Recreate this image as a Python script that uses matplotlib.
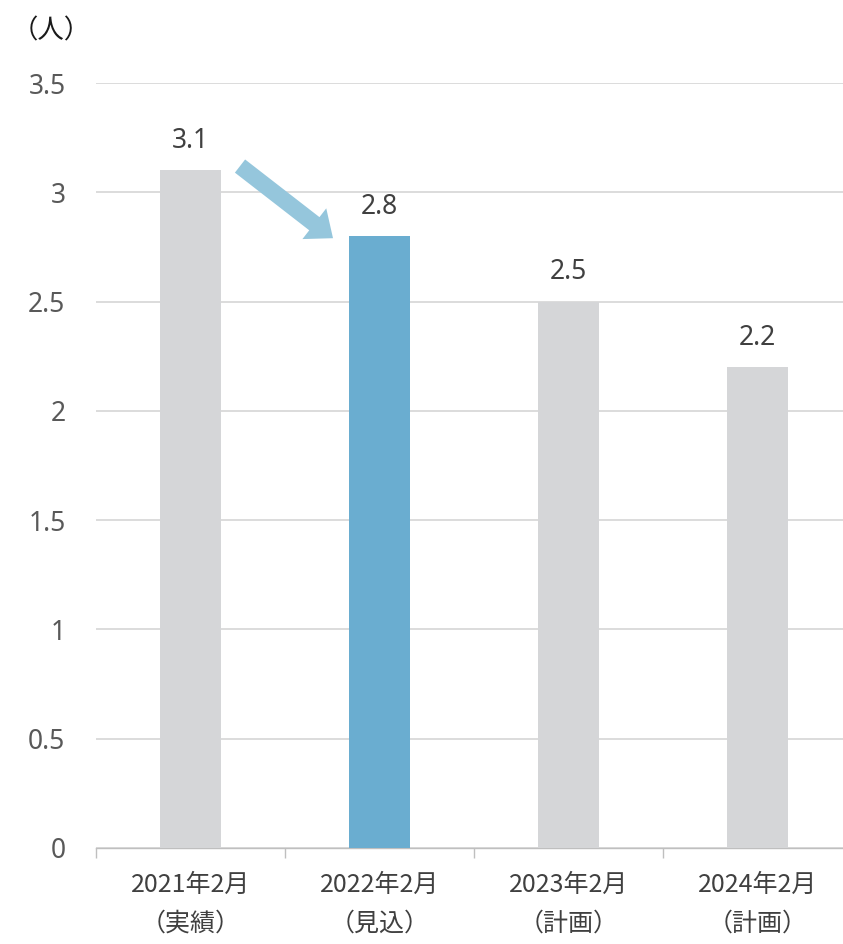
import matplotlib
matplotlib.use("Agg")
import matplotlib.pyplot as plt

plt.rcParams['font.family'] = ['Noto Sans', 'Noto Sans CJK JP', 'DejaVu Sans']

categories = ["2021年2月\n（実績）", "2022年2月\n（見込）", "2023年2月\n（計画）", "2024年2月\n（計画）"]
values = [3.1, 2.8, 2.5, 2.2]
value_labels = ["3.1", "2.8", "2.5", "2.2"]
bar_colors = ["#D5D6D8", "#6AADD0", "#D5D6D8", "#D5D6D8"]
yticks = [0, 0.5, 1, 1.5, 2, 2.5, 3, 3.5]
ytick_labels = ["0", "0.5", "1", "1.5", "2", "2.5", "3", "3.5"]

fig = plt.figure(figsize=(8.43, 9.44), dpi=100)
ax = fig.add_axes([96 / 843, 96 / 944, 756 / 843, 765 / 944])

x = list(range(len(categories)))
ax.bar(x, values, width=0.32, color=bar_colors, zorder=3)

for xi, v, lab in zip(x, values, value_labels):
    ax.annotate(lab, (xi, v), xytext=(0, 21), textcoords="offset points",
                ha="center", va="center", fontsize=19, color="#404040")

ax.set_xlim(-0.5, len(categories) - 0.5)
ax.set_ylim(0, 3.5)
ax.set_yticks(yticks)
ax.set_yticklabels(ytick_labels)
ax.set_xticks(x)
ax.set_xticklabels(categories, fontsize=18, color="#404040", linespacing=1.65,
                   family=['Noto Sans CJK JP', 'DejaVu Sans'])
ax.set_xticks([i - 0.5 for i in range(len(categories) + 1)], minor=True)

ax.tick_params(axis="y", length=0, pad=22, labelsize=19, labelcolor="#595959")
ax.tick_params(axis="x", which="major", length=0, pad=17)
ax.tick_params(axis="x", which="minor", length=7.5, width=1, color="#BFBFBF")

ax.grid(axis="y", color="#D9D9D9", linewidth=1.3, zorder=0)
for s in ["top", "right", "left"]:
    ax.spines[s].set_visible(False)
ax.spines["bottom"].set_color("#BFBFBF")
ax.spines["bottom"].set_linewidth(1)

# arrow from the first bar to the second
ax.annotate("", xy=(0.754, 2.79), xytext=(0.262, 3.12),
            arrowprops=dict(arrowstyle="simple,head_length=17,head_width=28,tail_width=12",
                            mutation_scale=1, color="#95C6DC", shrinkA=0, shrinkB=0,
                            linewidth=0), zorder=4)

fig.text(12 / 843, 1 - 31 / 944, "（人）", fontsize=19, color="#1A1A1A",
         va="center", ha="left", family=['Noto Sans CJK JP'])

fig.savefig("out.png", dpi=100)
